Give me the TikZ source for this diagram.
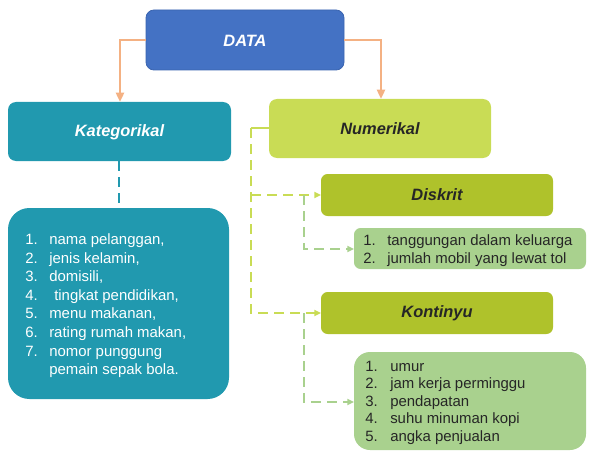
\documentclass[tikz,border=0pt]{standalone}
\usepackage{fontspec}
\setmainfont{Liberation Sans}
\usetikzlibrary{arrows.meta}
\definecolor{databl}{HTML}{4472C4}
\definecolor{databd}{HTML}{3A64B0}
\definecolor{teal1}{HTML}{2199AF}
\definecolor{lime1}{HTML}{C9DC55}
\definecolor{olive1}{HTML}{AFC22B}
\definecolor{lgreen}{HTML}{A9D18E}
\definecolor{orng}{HTML}{F4B183}
\definecolor{darktx}{HTML}{262626}
\tikzset{
  hdr/.style={font=\fontsize{12.3}{14}\selectfont\bfseries\itshape},
  ltx/.style={font=\fontsize{11.2}{13}\selectfont, anchor=base west, inner sep=0pt},
  oarrow/.style={draw=orng, line width=2pt, -{Triangle[length=7pt,width=6pt]}},
  gdash/.style={draw=lime1, line width=1.5pt, dash pattern=on 7.5pt off 4.5pt, -{Triangle[length=5pt,width=4.5pt]}},
  ldash/.style={draw=lgreen, line width=1.5pt, dash pattern=on 7.5pt off 4.5pt, -{Triangle[length=5pt,width=4.5pt]}},
}
\begin{document}
\begin{tikzpicture}[x=0.75pt,y=-0.75pt]
\useasboundingbox (0,0) rectangle (600,460);
% boxes
\filldraw[fill=databl, draw=databd, line width=0.6pt, rounded corners=6pt] (146,10) rectangle (344,70);
\node[hdr, text=white] (data) at (245,41) {DATA};
\coordinate (dataW) at (146,40);
\coordinate (dataE) at (344,40);

\fill[teal1, rounded corners=6pt] (8,102) rectangle (231,161);
\node[hdr, text=white] (kat) at (119.5,132) {Kategorikal};
\coordinate (katN) at (120,102);
\coordinate (katS) at (119,161);

\fill[lime1, rounded corners=6pt] (269,99) rectangle (491,158);
\node[hdr, text=darktx] (num) at (380,129) {Numerikal};
\coordinate (numN) at (381,99);
\coordinate (numW) at (269,128);

\fill[teal1, rounded corners=16pt] (8,208) rectangle (229,399);
\coordinate (katlN) at (119,208);

\fill[olive1, rounded corners=5pt] (321,174) rectangle (553,216);
\node[hdr, text=darktx] (dis) at (437,195) {Diskrit};
\coordinate (disW) at (321,195);

\fill[lgreen, rounded corners=5pt] (354,228) rectangle (586,269);
\coordinate (dislW) at (354,249);

\fill[olive1, rounded corners=5pt] (321,292) rectangle (553,334);
\node[hdr, text=darktx] (kon) at (437,313) {Kontinyu};
\coordinate (konW) at (321,313);

\fill[lgreen, rounded corners=12pt] (354,352) rectangle (586,450);
\coordinate (konlW) at (354,402);

% connectors
\draw[oarrow] (dataW) -| (katN);
\draw[oarrow] (dataE) -| (numN);
\draw[teal1, line width=1.5pt, dash pattern=on 7.5pt off 4.5pt] (katS) -- (katlN);
\coordinate (g1) at (251,128);
\coordinate (g2) at (251,195);
\coordinate (g3) at (251,313);
\coordinate (d1) at (304,195);
\coordinate (d2) at (304,313);
\draw[lime1, line width=1.5pt] (numW) -- (g1);
\draw[gdash] (g1) -- (g3) -- (konW);
\draw[gdash] (g2) -- (disW);
\draw[ldash] (d1) |- (dislW);
\draw[ldash] (d2) |- (konlW);

% lists
\foreach \num/\txt/\xx [count=\n] in {1./{nama pelanggan,}/49, 2./{jenis kelamin,}/49, 3./{domisili,}/49, 4./{tingkat pendidikan,}/54, 5./{menu makanan,}/49, 6./{rating rumah makan,}/49, 7./{nomor punggung}/49} {
  \node[ltx, text=white] (kn\n) at (25,{244.6+(\n-1)*18.57}) {\num};
  \node[ltx, text=white] (kt\n) at (\xx,{244.6+(\n-1)*18.57}) {\txt};
}
\node[ltx, text=white] (kt8) at (49,{244.6+7*18.57}) {pemain sepak bola.};

\foreach \num/\txt [count=\n] in {1./{tanggungan dalam keluarga}, 2./{jumlah mobil yang lewat tol}} {
  \node[ltx, text=darktx] (dn\n) at (363,{245+(\n-1)*18}) {\num};
  \node[ltx, text=darktx] (dt\n) at (387,{245+(\n-1)*18}) {\txt};
}

\foreach \num/\txt [count=\n] in {1./{umur}, 2./{jam kerja perminggu}, 3./{pendapatan}, 4./{suhu minuman kopi}, 5./{angka penjualan}} {
  \node[ltx, text=darktx] (cn\n) at (365,{371+(\n-1)*17.5}) {\num};
  \node[ltx, text=darktx] (ct\n) at (390,{371+(\n-1)*17.5}) {\txt};
}
\end{tikzpicture}
\end{document}
